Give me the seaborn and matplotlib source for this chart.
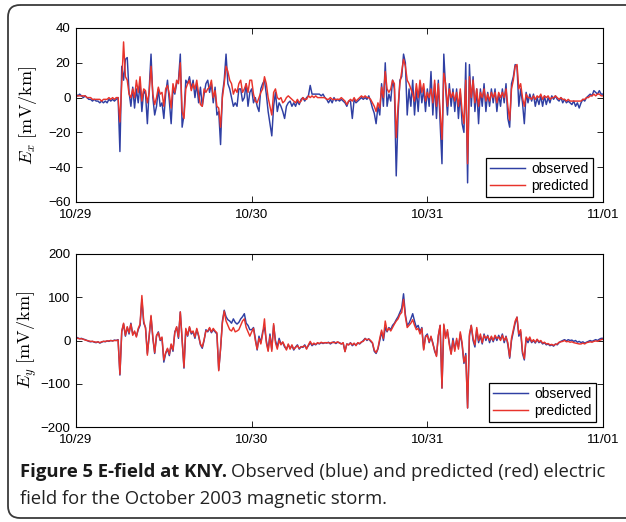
import numpy as np
import pandas as pd
import matplotlib
matplotlib.use("Agg")
import matplotlib.pyplot as plt
import seaborn as sns
from matplotlib.patches import FancyBboxPatch

# ---------------- data (15-minute samples, hours from 10/29 00:00) ----------------
ex_obs = [
    2, 1, 2, 1,  0, 1, 0, -1,  -1, -2, -1, -2,  -2, -3, -2, -3,  -2, -3, -1, -2,  -1, -2, -1, 0,
    -31, 18, 10, 22,  23, 3, -5, 6,  -6, 5, -3, 8,  -8, 4, 2, -15,  5, 25, 0, -10,  -5, 5, -5, -3,
    -12, 2, 10, -2,  -15, 5, 2, 8,  10, 25, -17, -10,  10, 8, 12, 5,  10, 0, 8, -3,  6, -5, 2, 8,
    10, 3, 8, -3,  6, -10, -8, -27,  2, 10, 25, 8,  5, 0, -5, -3,  -5, 5, 5, -2,  0, 8, -5, 3,
    5, -3, 0, -5,  -8, 5, 8, 10,  2, -8, -15, -22,  -5, 3, -8, -3,  -5, -8, -12, -5,  -3, -2, -5, -3,
    -5, -2, -4, -1,  0, -2, 0, 1,  7, 2, 2, 2,  2, 2, 1, 2,  0, -1, -3, -1,  -3, 0, -2, -1,
    -2, -1, -2, -3,  -5, -2, -2, -12,  -1, -3, -2, -1,  0, -1, 0, -1,  1, -2, -6, -9,  -15, -5, -10, 8,
    -5, 20, -5, 2,  -2, 10, 5, -45,  -10, 10, 12, 25,  20, -10, 5, -5,  10, -10, 5, -8,  8, -3, 5, -8,
    5, -5, 15, -10,  8, -12, 10, -15,  -38, 25, 5, -10,  8, -5, 5, -8,  5, -12, 3, -15,  -20, 20, -49, 19,
    -5, 12, -8, 5,  -15, 5, -5, 8,  -8, 3, -5, 5,  -3, 5, -8, 2,  -5, 5, -3, 8,  -12, -17, 8, 12,
    19, 18, -5, 5,  -3, -15, 3, -3,  2, -2, 2, -5,  0, -4, 1, -5,  1, -4, 0, -3,  1, -1, 1, -1,
    -2, 0, -3, -1,  -3, -2, -3, -4,  -2, -5, -3, -6,  -3, -1, -2, 0,  1, 2, 1, 4,  3, 2, 4, 2,
    2]
ex_pred = [
    1, 1, 1, 1,  1, 1, 0, 0,  0, -1, -1, -1,  -1, -1, -2, -1,  -1, -1, 0, -1,  0, -1, 0, 0,
    -14, 8, 32, 12,  10, 2, 0, 5,  0, 10, 3, 12,  -2, 5, 4, -3,  3, 18, 2, -4,  0, 6, 2, 3,
    -5, 5, 7, 2,  -6, 8, 3, 10,  8, 20, -8, -12,  5, 8, 10, 4,  8, 5, 10, 2,  -4, -5, 5, 3,
    5, 6, 10, 0,  4, -5, -6, -17,  0, 8, 18, 15,  10, 8, 2, 5,  3, 8, 10, 3,  5, 8, 3, 10,
    10, 2, -2, -3,  0, 3, 5, 12,  8, 0, -5, -10,  3, 5, 0, -1,  0, -3, -2, 0,  1, 0, -1, -2,
    -3, -1, -3, -2,  0, -1, -1, 1,  0, 1, 0, 1,  0, 0, 0, 0,  0, -1, -1, 0,  -1, -1, -1, -1,
    -1, 0, -1, -2,  -4, -2, -1, -2,  0, -2, -1, 0,  1, 0, 1, 0,  0, -1, -3, -5,  -8, -3, -6, 6,
    0, 15, 5, 3,  5, 10, 8, -23,  -5, 8, 15, 22,  18, 10, 8, 5,  2, -2, 8, 0,  10, 3, 8, -2,
    3, 0, 5, -3,  10, -5, 8, -8,  -24, 14, 8, -5,  5, 0, 3, -2,  3, -5, 5, -8,  -15, 10, -38, 12,
    0, 10, -3, 5,  -5, 3, 0, 5,  -2, 2, -2, 3,  0, 3, -3, 3,  0, 3, 0, 5,  -5, -13, 5, 10,
    18, 19, 5, 8,  0, -5, 2, 0,  0, -1, 1, -1,  1, 0, 2, -1,  1, 0, 1, -1,  0, 0, 1, 0,
    -1, 0, -1, -1,  -2, -1, -2, -2,  -2, -2, -2, -2,  -2, -1, -1, 0,  0, 1, 1, 2,  1, 2, 2, 1,
    1]
ey_obs = [
    8, 6, 4, 5,  3, 2, 0, -2,  -3, -2, -4, -5,  -3, -6, -4, -2,  -3, -1, -2, 0,  -1, 1, 0, 2,
    -80, 20, 38, 10,  30, 15, 40, 15,  20, 10, 25, 35,  95, 40, 30, -30,  10, 55, 5, -30,  10, 20, 0, 5,
    -50, -30, -20, -35,  -10, -25, 20, 30,  5, 66, 0, -64,  25, 10, 30, 15,  20, 5, 25, 10,  -10, -18, 0, 25,
    20, 28, 18, 25,  20, 15, -68, -20,  45, 70, 55, 48,  45, 40, 50, 42,  38, 42, 50, 55,  62, 40, 35, 25,
    25, 30, 5, -22,  10, -5, 20, 30,  0, -22, 15, -20,  35, 0, -15, 5,  -8, -5, -15, -20,  -10, -18, -12, -22,
    -15, -10, -20, -14,  -16, -10, -18, -12,  -5, -12, -8, -10,  -6, -8, -5, -7,  -5, -6, -4, -8,  -5, -3, -7, -4,
    -5, -8, -6, -25,  -8, -10, -5, -12,  -8, -10, -6, -8,  -4, 0, 5, 0,  4, -2, -6, -25,  -30, -20, 0, 20,
    0, 30, 20, 30,  25, 35, 40, 48,  55, 65, 75, 108,  60, 35, 40, 50,  62, 45, 30, 35,  20, 30, -20, 10,
    15, -5, 8, -5,  -25, -35, 10, 35,  -110, 35, 10, 20,  -5, -30, 5, -20,  0, -15, 15, -10,  -53, -30, -156, 10,
    35, 0, -15, 25,  -5, 10, -8, 15,  0, 12, -5, 8,  -3, 10, 0, 12,  2, 15, -5, 10,  -10, -41, 0, 20,
    40, 54, 10, 20,  -30, -45, 5, -5,  5, -5, 0, -6,  2, -5, -2, -8,  -5, -10, -8, -12,  -10, -13, -8, -10,
    -5, -2, 0, 2,  -1, 2, 0, 1,  -2, 0, -4, -2,  -5, -3, -6, -4,  -2, 0, -2, 0,  2, 0, 3, 5,
    5]
ey_pred = [
    6, 5, 4, 4,  3, 1, 0, -1,  -2, -2, -3, -4,  -3, -5, -3, -2,  -2, -1, -1, 0,  -1, 0, 0, 1,
    -78, 22, 40, 12,  32, 18, 38, 12,  22, 8, 28, 38,  104, 45, 28, -34,  12, 58, 8, -28,  12, 18, 2, 8,
    -45, -28, -18, -32,  -8, -22, 18, 32,  8, 66, 2, -62,  28, 12, 32, 18,  22, 8, 28, 12,  -8, -15, 2, 22,
    22, 30, 20, 28,  22, 18, -70, -18,  40, 68, 45, 35,  25, 22, 30, 20,  22, 25, 35, 45,  50, 30, 20, 10,
    20, 28, 0, -20,  5, -8, 15, 50,  -5, -25, 10, -25,  39, -5, -20, 0,  -10, -3, -12, -22,  -8, -20, -10, -20,
    -16, -12, -18, -15,  -14, -12, -20, -10,  -2, -10, -6, -9,  -5, -7, -4, -6,  -5, -5, -5, -6,  -4, -5, -5, -3,
    -6, -8, -5, -26,  -8, -10, -6, -10,  -6, -12, -5, -7,  -3, -2, 4, 2,  3, 0, -5, -22,  -28, -18, 5, 24,
    5, 45, 22, 28,  22, 30, 38, 45,  50, 60, 65, 95,  55, 30, 35, 40,  48, 35, 25, 28,  15, 28, -22, 8,
    12, -3, 10, -8,  -22, -37, 12, 35,  -110, 38, 5, 25,  -10, -32, 0, -25,  5, -20, 20, -5,  -50, -35, -156, 15,
    35, 5, -10, 30,  0, 15, -5, 12,  5, 10, 0, 10,  0, 12, 5, 8,  0, 12, 0, 8,  -5, -38, 5, 25,
    45, 54, 15, 25,  -25, -42, 8, 0,  8, -3, 2, -4,  3, -3, 0, -6,  -4, -8, -7, -10,  -9, -11, -9, -8,
    -4, -3, -2, 0,  -3, -2, -4, -3,  -5, -6, -7, -8,  -8, -6, -8, -5,  -4, -3, -4, -2,  -1, -2, 0, 2,
    3]

day_ticks = [0, 24, 48, 72]
day_labels = ["10/29", "10/30", "10/31", "11/01"]
ex_ticks = [40, 20, 0, -20, -40, -60]
ey_ticks = [200, 100, 0, -100, -200]
series_labels = ["observed", "predicted"]

# ---------------- style ----------------
BLUE = "#2f3fa3"
RED = "#e8332b"
plt.rcParams["font.family"] = ["Liberation Sans", "DejaVu Sans"]
plt.rcParams["mathtext.fontset"] = "cm"

W, H = 626, 522
fig = plt.figure(figsize=(W / 100, H / 100), dpi=100)

# background overlay (frame + caption), pixel coordinates
bg = fig.add_axes([0, 0, 1, 1])
bg.set_zorder(-1)
bg.set_xlim(0, W)
bg.set_ylim(H, 0)
bg.axis("off")
frame = FancyBboxPatch((8, 5), 700, 513, boxstyle="round,pad=0,rounding_size=12",
                       fill=False, ec="#3a3a3a", lw=1.3, clip_on=False)
bg.add_patch(frame)


def make_panel(rect, obs, pred, ylim, yticks, ylabel, legend_anchor):
    ax = fig.add_axes(rect)
    t = np.arange(len(obs)) * 0.25
    df = pd.DataFrame({"t": t, "obs": obs, "pred": pred})
    sns.lineplot(data=df, x="t", y="obs", ax=ax, color=BLUE, lw=1.05,
                 estimator=None, label=series_labels[0])
    sns.lineplot(data=df, x="t", y="pred", ax=ax, color=RED, lw=1.05,
                 estimator=None, label=series_labels[1])
    ax.set_xlim(0, 72)
    ax.set_ylim(*ylim)
    ax.set_xticks(day_ticks)
    ax.set_xticklabels(day_labels)
    ax.set_yticks(yticks)
    ax.set_xlabel("")
    ax.set_ylabel(ylabel, fontsize=13)
    ax.yaxis.set_label_coords(-0.071, 0.5)
    ax.tick_params(direction="in", top=True, right=True, length=4, width=0.6,
                   labelsize=9.5, colors="black")
    ax.tick_params(axis="x", pad=5)
    ax.tick_params(axis="y", pad=4)
    for s in ax.spines.values():
        s.set_linewidth(0.8)
        s.set_color("black")
    ax.set_facecolor("white")
    leg = ax.legend(loc="lower right", bbox_to_anchor=legend_anchor,
                    bbox_transform=fig.transFigure, borderaxespad=0,
                    fancybox=False, framealpha=1, edgecolor="black",
                    fontsize=10, handlelength=2.5, handletextpad=0.5,
                    borderpad=0.3, labelspacing=0.2)
    leg.get_frame().set_linewidth(0.9)
    return ax


ax1 = make_panel([76 / W, 1 - 202 / H, 527 / W, 174 / H], ex_obs, ex_pred,
                 (-60, 40), ex_ticks, r"$E_x\ [\mathrm{mV/km}]$",
                 (593 / W, 1 - 197 / H))
ax2 = make_panel([76 / W, 1 - 427 / H, 527 / W, 173 / H], ey_obs, ey_pred,
                 (-200, 200), ey_ticks, r"$E_y\ [\mathrm{mV/km}]$",
                 (596 / W, 1 - 422 / H))

# caption
cap_font = ["Open Sans", "DejaVu Sans"]
renderer = fig.canvas.get_renderer()
fs = 13.3
t1 = bg.text(20, 477, "Figure 5 E-field at KNY.", fontsize=fs, fontweight="bold",
             family=cap_font, va="baseline", ha="left", color="#1a1a1a")
bb = t1.get_window_extent(renderer)
bg.text(20 + bb.width + 4, 477, "Observed (blue) and predicted (red) electric",
        fontsize=fs, family=cap_font, va="baseline", ha="left", color="#222222")
bg.text(20, 504, "field for the October 2003 magnetic storm.", fontsize=fs,
        family=cap_font, va="baseline", ha="left", color="#222222")

fig.savefig("out.png", dpi=100)
